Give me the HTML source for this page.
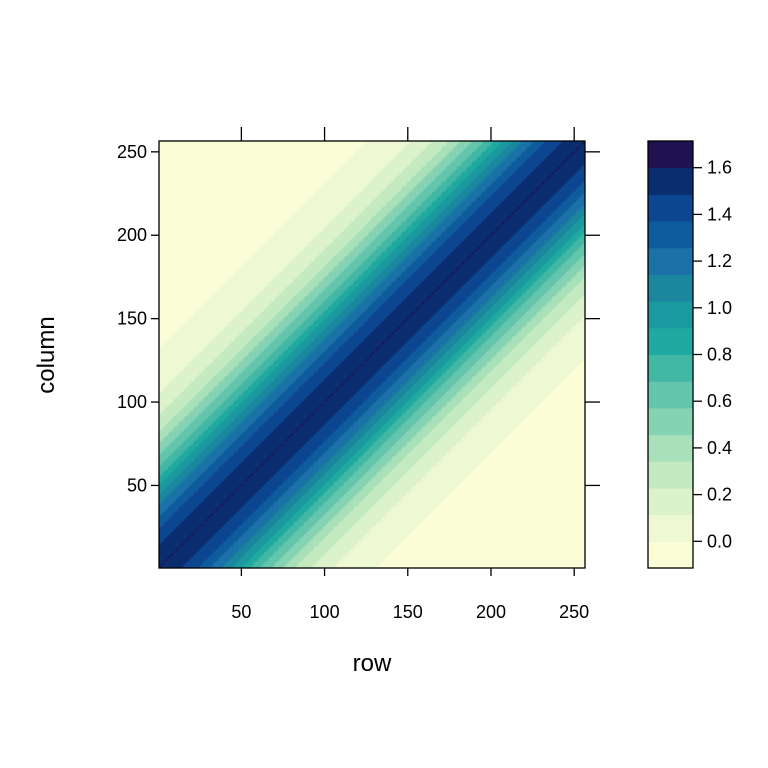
<!DOCTYPE html>
<html><head><meta charset="utf-8"><style>
body{margin:0;background:#fff;}
#wrap{position:relative;width:768px;height:768px;font-family:"Liberation Sans",Arial,sans-serif;}
canvas{position:absolute;left:159px;top:141px;}
svg{position:absolute;left:0;top:0;}
</style></head><body>
<div id="wrap">
<canvas id="hm" width="426" height="427"></canvas>
<svg id="ax" width="768" height="768"></svg>
</div>
<script>
// data
const nRows = 256;
const kernelAmplitude = [1.59];
const kernelLengthScale = [69];
const kernelOffset = [-0.045];
const nugget = [0.09];
const binWidth = 1.6/14;
const breaks = [];
for(let k=0;k<=16;k++)breaks.push(-binWidth+k*binWidth);
const colors = ["#FAFDD5","#EEF8D3","#DBF2CB","#C3EAC1","#A7E0B9","#86D3B4","#62C5AC","#42B8A4","#1FA9A0","#1A9A9F","#1B879F","#1A72A8","#0F5C9C","#0C4690","#0A2D6F","#201150"];
const axisTicks = [50,100,150,200,250];
const cbTicks = [0.0,0.2,0.4,0.6,0.8,1.0,1.2,1.4,1.6];
const cbLabels = ["0.0","0.2","0.4","0.6","0.8","1.0","1.2","1.4","1.6"];

const PX0=159, PX1=585, PY0=141, PY1=568;
const sx = v => PX0 + (v-0.5)/nRows*(PX1-PX0);
const sy = v => PY1 - (v-0.5)/nRows*(PY1-PY0);
function val(i,j){const d=i-j;let v=kernelAmplitude[0]*Math.exp(-(d*d)/(kernelLengthScale[0]*kernelLengthScale[0]))+kernelOffset[0];if(i===j)v+=nugget[0];return v;}
function colOf(v){for(let k=0;k<colors.length;k++){if(v<breaks[k+1])return colors[k];}return colors[colors.length-1];}
function hex(c){return [parseInt(c.slice(1,3),16),parseInt(c.slice(3,5),16),parseInt(c.slice(5,7),16)];}
const cv=document.getElementById('hm');const ctx=cv.getContext('2d');
const W=cv.width,H=cv.height;const img=ctx.createImageData(W,H);
for(let py=0;py<H;py++){for(let px=0;px<W;px++){
 const i=Math.min(nRows,Math.max(1,Math.floor(px/W*nRows)+1));
 const j=Math.min(nRows,Math.max(1,Math.floor((H-1-py)/H*nRows)+1));
 const c=hex(colOf(val(i,j)));const o=(py*W+px)*4;
 img.data[o]=c[0];img.data[o+1]=c[1];img.data[o+2]=c[2];img.data[o+3]=255;}}
ctx.putImageData(img,0,0);

const svg=document.getElementById('ax');const NS='http://www.w3.org/2000/svg';
function mk(t,a,txt){const e=document.createElementNS(NS,t);for(const k in a)e.setAttribute(k,a[k]);if(txt!==undefined)e.textContent=txt;svg.appendChild(e);return e;}
let e;
e=mk('rect',{x:PX0,y:PY0,width:PX1-PX0,height:PY1-PY0,fill:'none',stroke:'#000','stroke-width':1.3});


axisTicks.forEach(t=>{
 const x=sx(t),y=sy(t);
 e=mk('line',{x1:x,x2:x,y1:PY1,y2:PY1+8,stroke:'#000','stroke-width':1.3});
 
 
 e=mk('line',{x1:x,x2:x,y1:PY0,y2:PY0-14,stroke:'#000','stroke-width':1.3});
 
 
 e=mk('text',{x:x,y:PY1+50,'text-anchor':'middle','font-size':18},String(t));
 
 
 e=mk('line',{x1:PX0-8,x2:PX0,y1:y,y2:y,stroke:'#000','stroke-width':1.3});
 
 
 e=mk('line',{x1:PX1,x2:PX1+15,y1:y,y2:y,stroke:'#000','stroke-width':1.3});
 
 
 e=mk('text',{x:PX0-12,y:y+6,'text-anchor':'end','font-size':18},String(t));
 
 
});
e=mk('text',{x:372,y:671,'text-anchor':'middle','font-size':24},'row');


e=mk('text',{x:0,y:0,'text-anchor':'middle','font-size':24,transform:'translate(54,355) rotate(-90)'},'column');


// colorbar
const CX0=648,CX1=693,CY0=141,CY1=568;
const cy=v=>CY1-(v-breaks[0])/(breaks[breaks.length-1]-breaks[0])*(CY1-CY0);
colors.forEach((c,k)=>{
 e=mk('rect',{x:CX0,y:cy(breaks[k+1]),width:CX1-CX0,height:cy(breaks[k])-cy(breaks[k+1])+0.5,fill:c});
 
 
});
e=mk('rect',{x:CX0,y:CY0,width:CX1-CX0,height:CY1-CY0,fill:'none',stroke:'#000','stroke-width':1.3});


cbTicks.forEach((t,k)=>{
 const y=cy(t);
 e=mk('line',{x1:CX1,x2:CX1+9,y1:y,y2:y,stroke:'#000','stroke-width':1.3});
 
 
 e=mk('text',{x:CX1+14,y:y+6,'font-size':18},cbLabels[k]);
 
 
});
</script>
</body></html>
